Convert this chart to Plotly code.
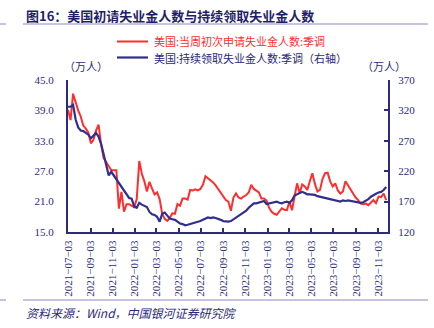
import pandas as pd
import plotly.graph_objects as go

# Weekly series, week ending Saturday (万人)
start_week = "2021-07-03"

initial_claims = [
    39.1, 37.1, 42.3, 40.5, 39.0, 37.8, 36.0, 35.4, 34.6, 32.5,
    33.2, 35.0, 36.2, 32.3, 29.6, 28.8, 27.9, 27.2, 27.2, 27.2,
    19.6, 22.9, 19.0, 20.5, 20.5, 20.2, 19.9, 21.5, 29.0, 26.5,
    25.0, 23.0, 24.9, 23.6, 22.4, 22.8, 21.5, 18.6, 17.6, 17.2,
    17.8, 18.7, 18.6, 20.5, 20.2, 21.6, 21.6, 21.4, 23.3, 23.2,
    23.4, 23.2, 23.5, 24.3, 26.0, 25.6, 25.2, 24.8, 24.2, 23.5,
    22.9, 22.0, 21.3, 21.0, 19.2, 21.8, 22.6, 21.8, 21.6, 22.0,
    22.3, 22.8, 24.3, 23.5, 23.2, 22.8, 21.6, 21.6, 21.2, 19.8,
    19.0, 18.6, 18.4, 19.0, 19.7, 19.4, 19.3, 21.0, 19.3, 22.0,
    24.6, 22.6, 24.4, 24.0, 23.3, 25.0, 26.6, 24.5, 23.0, 23.3,
    25.5, 26.6, 26.7, 25.0, 24.0, 24.6, 23.2, 22.6, 23.0, 25.0,
    24.2, 23.5, 22.8, 21.8, 21.3, 20.6, 20.5, 20.6, 20.3, 20.8,
    21.3, 20.7, 22.0, 21.9, 22.6, 21.3,
]

continuing_claims = [
    326, 326, 329, 305, 292, 287, 286, 283, 280, 274,
    279, 283, 277, 265, 248, 230, 213, 219, 213, 207,
    199, 195, 189, 182, 176, 175, 162, 160, 168, 165,
    163, 161, 153, 149, 148, 145, 137, 150, 152, 146,
    142, 141, 140, 137, 134, 133, 131, 132, 133, 134,
    136, 137, 138, 140, 142, 144, 143, 144, 143, 142,
    140, 138, 137, 137, 138, 141, 143, 147, 149, 152,
    155, 160, 164, 167, 167, 168, 170, 171, 166, 167,
    168, 169, 170, 168, 167, 169, 170, 168, 172, 180,
    182, 183, 186, 184, 182, 182, 182, 181, 179, 178,
    178, 177, 176, 175, 173, 173, 171, 170, 172, 171,
    172, 171, 171, 170, 168, 168, 169, 171, 174, 178,
    181, 183, 185, 186, 189, 194,
]

x_tick_dates = [
    "2021-07-03", "2021-09-03", "2021-11-03", "2022-01-03", "2022-03-03",
    "2022-05-03", "2022-07-03", "2022-09-03", "2022-11-03", "2023-01-03",
    "2023-03-03", "2023-05-03", "2023-07-03", "2023-09-03", "2023-11-03",
]
left_ticks = [15, 21, 27, 33, 39, 45]
right_ticks = [120, 170, 220, 270, 320, 370]

name_initial = "美国:当周初次申请失业金人数:季调"
name_continuing = "美国:持续领取失业金人数:季调（右轴）"

weeks = pd.date_range(start_week, periods=len(initial_claims), freq="7D")

RED = "#FF2E2E"
BLUE = "#312E8E"
NAVY = "#2B2A7C"
RULE = "#8C86C8"
SERIF = "Liberation Serif, Times New Roman, serif"
CJK = "Noto Sans CJK SC, sans-serif"

fig = go.Figure()
fig.add_trace(go.Scatter(
    x=weeks, y=initial_claims, name=name_initial, mode="lines",
    line=dict(color=RED, width=2), yaxis="y",
))
fig.add_trace(go.Scatter(
    x=weeks, y=continuing_claims, name=name_continuing, mode="lines",
    line=dict(color=BLUE, width=2.2), yaxis="y2",
))

axis_common = dict(
    showline=True, linecolor=NAVY, linewidth=2, showgrid=False, zeroline=False,
    tickfont=dict(family=SERIF, size=11, color=NAVY), tickcolor=NAVY,
)

fig.update_layout(
    width=434, height=328,
    margin=dict(l=68, r=46, t=80, b=96),
    paper_bgcolor="white", plot_bgcolor="white",
    showlegend=False,
    xaxis=dict(
        **axis_common, type="date", range=["2021-07-03", "2023-11-30"],
        tickvals=x_tick_dates,
        ticktext=[d.replace("-", "−") for d in x_tick_dates],
        tickangle=-90, ticks="inside", ticklen=4, tickwidth=1.5,
        ticklabelstandoff=2,
    ),
    yaxis=dict(
        **axis_common, range=[15, 45], tickvals=left_ticks,
        ticktext=[f"{v:.1f}" for v in left_ticks], ticks="",
        ticklabelstandoff=10,
    ),
    yaxis2=dict(
        **axis_common, range=[120, 370], tickvals=right_ticks,
        overlaying="y", side="right", ticks="inside", ticklen=4, tickwidth=1.5,
        ticklabelstandoff=6,
    ),
)

# vertical positions in pixels above the plot top (plot height 152, width 320)
LEG_RED_Y = 38.5
LEG_BLUE_Y = 22.5
UNIT_Y = 14

shapes = [
    # header and footer rules
    dict(type="line", xref="paper", yref="paper", x0=-68/320, x1=-62/320,
         y0=1 + 56/152, y1=1 + 56/152, line=dict(color=RULE, width=1)),
    dict(type="line", xref="paper", yref="paper", x0=-45/320, x1=360/320,
         y0=1 + 56/152, y1=1 + 56/152, line=dict(color=RULE, width=1)),
    dict(type="line", xref="paper", yref="paper", x0=-68/320, x1=-62/320,
         y0=-68/152, y1=-68/152, line=dict(color=RULE, width=1)),
    dict(type="line", xref="paper", yref="paper", x0=-45/320, x1=360/320,
         y0=-68/152, y1=-68/152, line=dict(color=RULE, width=1)),
    # legend keys
    dict(type="line", xref="paper", yref="paper", x0=49/320, x1=80/320,
         y0=1 + LEG_RED_Y/152, y1=1 + LEG_RED_Y/152, line=dict(color=RED, width=2)),
    dict(type="line", xref="paper", yref="paper", x0=49/320, x1=80/320,
         y0=1 + LEG_BLUE_Y/152, y1=1 + LEG_BLUE_Y/152, line=dict(color=BLUE, width=2.2)),
]

annotations = [
    dict(text="<b>图16：美国初请失业金人数与持续领取失业金人数</b>",
         xref="paper", yref="paper", x=-44/320, y=1 + 65/152,
         xanchor="left", yanchor="middle", showarrow=False,
         font=dict(family=CJK, size=13, color="#1F1E6A")),
    dict(text=name_initial, xref="paper", yref="paper", x=84/320, y=1 + LEG_RED_Y/152,
         xanchor="left", yanchor="middle", showarrow=False,
         font=dict(family=CJK, size=11, color=RED)),
    dict(text=name_continuing, xref="paper", yref="paper", x=84/320, y=1 + LEG_BLUE_Y/152,
         xanchor="left", yanchor="middle", showarrow=False,
         font=dict(family=CJK, size=11, color=NAVY)),
    dict(text="（万人）", xref="paper", yref="paper", x=-6/320, y=1 + UNIT_Y/152,
         xanchor="left", yanchor="middle", showarrow=False,
         font=dict(family=CJK, size=11, color=NAVY)),
    dict(text="（万人）", xref="paper", yref="paper", x=292/320, y=1 + UNIT_Y/152,
         xanchor="left", yanchor="middle", showarrow=False,
         font=dict(family=CJK, size=11, color=NAVY)),
    dict(text="<i>资料来源：Wind，中国银河证券研究院</i>",
         xref="paper", yref="paper", x=-44/320, y=-80/152,
         xanchor="left", yanchor="middle", showarrow=False,
         font=dict(family=CJK, size=12, color=NAVY)),
]

fig.update_layout(shapes=shapes, annotations=annotations)

fig.write_html("out.html")
